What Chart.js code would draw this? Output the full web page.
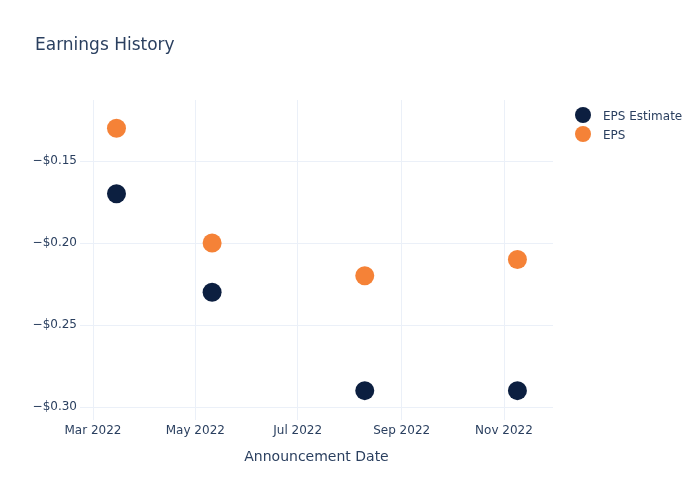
<!DOCTYPE html>
<html>
<head>
<meta charset="utf-8">
<script src="https://cdn.jsdelivr.net/npm/chart.js@4"></script>
<style>
  body { margin: 0; background: #fff; }
  #wrap { position: relative; width: 700px; height: 500px; font-family: "DejaVu Sans", sans-serif; color: #2a3f5f; }
  #title { position: absolute; left: 35px; top: 33px; font-size: 17px; line-height: 22px; white-space: nowrap; }
  .leg { position: absolute; left: 575px; font-size: 12px; line-height: 16px; white-space: nowrap; }
  .leg span.dot { position: absolute; left: 0; top: 0; width: 16px; height: 16px; border-radius: 50%; }
  .leg span.txt { position: absolute; left: 28px; top: 1px; }
</style>
</head>
<body>
<div id="wrap">
  <canvas id="epsChart" width="700" height="500"></canvas>
  <div id="title">Earnings History</div>
  <div class="leg" style="top:107px"><span class="dot" style="background:#0c1f40"></span><span class="txt">EPS Estimate</span></div>
  <div class="leg" style="top:126px"><span class="dot" style="background:#f58237"></span><span class="txt">EPS</span></div>
</div>
<script>
// data
const dates = ['2022-03-15', '2022-05-11', '2022-08-10', '2022-11-09'];
const epsEstimate = [-0.17, -0.23, -0.29, -0.29];
const epsActual = [-0.13, -0.20, -0.22, -0.21];
const xTickDates = ['2022-03-01', '2022-05-01', '2022-07-01', '2022-09-01', '2022-11-01'];
const yTicks = [-0.30, -0.25, -0.20, -0.15];

const months = ['Jan', 'Feb', 'Mar', 'Apr', 'May', 'Jun', 'Jul', 'Aug', 'Sep', 'Oct', 'Nov', 'Dec'];
const toTime = s => Date.parse(s + 'T00:00:00Z');

function points(values) {
    return values.map((v, i) => ({ x: toTime(dates[i]), y: v }));
}

document.addEventListener('DOMContentLoaded', function() {
    const ctx = document.getElementById('epsChart').getContext('2d');
    const gridColor = '#ebf0f8';
    const textColor = '#2a3f5f';
    new Chart(ctx, {
        type: 'scatter',
        data: {
            datasets: [{
                label: 'EPS Estimate',
                data: points(epsEstimate),
                backgroundColor: '#0c1f40',
                borderWidth: 0,
                pointRadius: 9.5,
                pointHoverRadius: 9.5
            }, {
                label: 'EPS',
                data: points(epsActual),
                backgroundColor: '#f58237',
                borderWidth: 0,
                pointRadius: 9.5,
                pointHoverRadius: 9.5
            }]
        },
        options: {
            responsive: false,
            animation: false,
            devicePixelRatio: 1,
            layout: { padding: { top: 100, right: 147, bottom: 0, left: 0 } },
            plugins: {
                legend: { display: false },
                title: { display: false },
                tooltip: { enabled: false }
            },
            scales: {
                x: {
                    type: 'linear',
                    min: Date.parse('2022-02-21T06:00:00Z'),
                    max: Date.parse('2022-11-30T05:00:00Z'),
                    afterBuildTicks: axis => { axis.ticks = xTickDates.map(d => ({ value: toTime(d) })); },
                    afterFit: axis => { axis.height = 80; },
                    grid: { color: gridColor, drawTicks: false },
                    border: { display: false },
                    ticks: {
                        color: textColor,
                        font: { family: 'DejaVu Sans', size: 12 },
                        padding: 4,
                        maxRotation: 0,
                        callback: v => {
                            const d = new Date(v);
                            return months[d.getUTCMonth()] + ' ' + d.getUTCFullYear();
                        }
                    },
                    title: {
                        display: true,
                        text: 'Announcement Date',
                        color: textColor,
                        font: { family: 'DejaVu Sans', size: 14 },
                        padding: { top: 0, bottom: 34 }
                    }
                },
                y: {
                    min: -0.3079,
                    max: -0.1128,
                    afterBuildTicks: axis => { axis.ticks = yTicks.map(v => ({ value: v })); },
                    afterFit: axis => { axis.width = 80; },
                    grid: { color: gridColor, drawTicks: false },
                    border: { display: false },
                    ticks: {
                        color: textColor,
                        font: { family: 'DejaVu Sans', size: 12 },
                        padding: 3,
                        callback: v => (v < 0 ? '\u2212' : '') + '$' + Math.abs(v).toFixed(2)
                    }
                }
            }
        }
    });
});
</script>
</body>
</html>
